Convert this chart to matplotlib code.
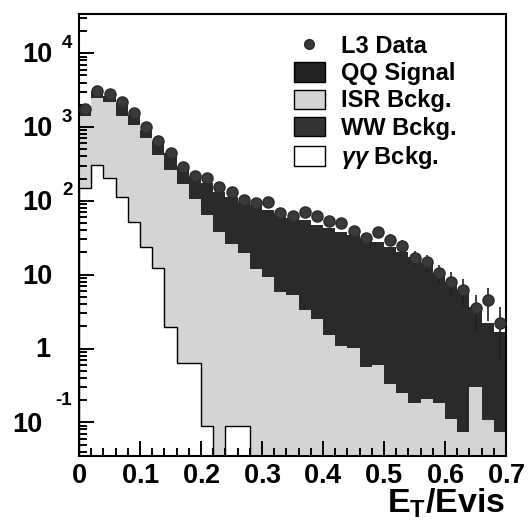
import numpy as np
import matplotlib
matplotlib.use("Agg")
import matplotlib.pyplot as plt
from matplotlib.patches import Patch
from matplotlib.lines import Line2D
from matplotlib.ticker import FixedLocator, NullFormatter

plt.rcParams['font.family'] = ['Liberation Sans', 'DejaVu Sans']
plt.rcParams['font.weight'] = 'bold'
plt.rcParams['mathtext.fontset'] = 'custom'
plt.rcParams['mathtext.rm'] = 'Liberation Sans:bold'
plt.rcParams['mathtext.bf'] = 'Liberation Sans:bold'
plt.rcParams['mathtext.it'] = 'Liberation Sans:bold:italic'

# ---- data (bins of 0.02 in E_T/Evis from 0 to 0.7) ----
bin_edges = np.round(np.arange(0, 0.7001, 0.02), 3)

gg_bckg = [150, 308, 205, 114, 52, 24, 12.3, 1.95, 0.63, 0.63, 0.09, 0, 0.09, 0.09,
           0, 0, 0, 0, 0, 0, 0, 0, 0, 0, 0, 0, 0, 0, 0, 0, 0, 0, 0, 0, 0]
isr_bckg = [1270, 2190, 1955, 1276, 1018, 692, 409, 262, 169, 104, 64.4, 38, 25.9, 19.6,
            11.9, 9.3, 5.8, 5.3, 3.3, 2.5, 1.52, 1.08, 1.01, 0.56, 0.60, 0.33, 0.25,
            0.18, 0.21, 0.18, 0.11, 0.073, 0.30, 0.107, 0.073]
ww_bckg = [5, 6, 6, 7, 6, 5, 5, 5, 4.5, 4.5, 4.5, 4.2, 4, 4, 3.8, 3.6, 3.4, 3.2, 3,
           2.8, 2.6, 2.4, 2.2, 2.0, 1.8, 1.6, 1.4, 1.2, 1.0, 0.8, 0.6, 0.5, 0.3, 0.2, 0.15]
qq_signal = [475, 534, 434, 743, 394, 197, 212, 179, 117.5, 104.5, 106, 89.8, 83, 73,
             72.2, 62.4, 57.6, 50.8, 48, 41.7, 38.9, 34.6, 31.8, 29, 25.4, 21.9, 18.6,
             16, 13.2, 9.5, 7.3, 5.6, 3.05, 1.9, 1.45]
l3_data = [1770, 3100, 2800, 2200, 1560, 990, 652, 452, 292, 219, 205, 155, 132, 103,
           94, 97, 69, 62, 71, 62.5, 53.5, 50, 39, 31.5, 38, 29.6, 24.5, 16.9, 14.9,
           10.5, 8.0, 6.2, 3.5, 4.5, 2.2]

y_tick_values = [0.1, 1, 10, 100, 1000, 10000]
y_tick_mantissa = ['10', '1', '10', '10', '10', '10']
y_tick_exponent = ['-1', '', '', '2', '3', '4']
x_tick_values = [0, 0.1, 0.2, 0.3, 0.4, 0.5, 0.6, 0.7]
x_tick_labels = ['0', '0.1', '0.2', '0.3', '0.4', '0.5', '0.6', '0.7']

legend_labels = ['L3 Data', 'QQ Signal', 'ISR Bckg.', 'WW Bckg.', r'$\gamma\gamma$ Bckg.']

# ---- colours ----
c_qq = '#2a2a2a'
c_ww = '#2a2a2a'
c_isr = '#d4d4d4'
c_gg = '#ffffff'

gg = np.array(gg_bckg, float)
isr = np.array(isr_bckg, float)
ww = np.array(ww_bckg, float)
qq = np.array(qq_signal, float)
data = np.array(l3_data, float)

lvl_gg = gg
lvl_isr = gg + isr
lvl_ww = lvl_isr + ww
lvl_qq = lvl_ww + qq

base = 1e-4
fig = plt.figure(figsize=(5.29, 5.24), dpi=100)
ax = fig.add_axes([79/529, 68/524, (506-79)/529, (456-14)/524])
ax.set_yscale('log')

ax.stairs(lvl_qq, bin_edges, baseline=base, fill=True, color=c_qq, lw=0)
ax.stairs(lvl_ww, bin_edges, baseline=base, fill=True, color=c_ww, lw=0)
ax.stairs(lvl_isr, bin_edges, baseline=base, fill=True, color=c_isr, lw=0)
gg_plot = np.maximum(lvl_gg, base)
ax.stairs(gg_plot, bin_edges, baseline=base, fill=True, color=c_gg, lw=0)
ax.stairs(gg_plot, bin_edges, color='black', lw=1.0)

centers = 0.5 * (bin_edges[:-1] + bin_edges[1:])
ax.errorbar(centers, data, yerr=np.sqrt(data), fmt='o', ms=8, mfc='#3a3a3a',
            mec='#2a2a2a', ecolor='#202020', elinewidth=1.2, capsize=0, zorder=5)

ax.set_xlim(0, 0.7)
ax.set_ylim(0.035, 3.4e4)

for s in ax.spines.values():
    s.set_linewidth(1.5)

ax.yaxis.set_major_locator(FixedLocator(y_tick_values))
ax.yaxis.set_major_formatter(NullFormatter())
ax.yaxis.set_minor_locator(FixedLocator(
    [m * 10.0**e for e in range(-2, 5) for m in range(2, 10)]))
ax.yaxis.set_minor_formatter(NullFormatter())
ax.set_xticks(x_tick_values)
ax.set_xticklabels(['$%s$' % t for t in x_tick_labels])
ax.set_xticks(np.round(np.arange(0, 0.7001, 0.02), 3), minor=True)

ax.tick_params(which='both', direction='in', top=False, right=False,
               width=1.4)
ax.tick_params(which='major', length=11)
ax.tick_params(which='minor', length=6)
ax.tick_params(axis='x', labelsize=19.5, pad=5)

# y tick labels: mantissa + raised exponent, as in the original
for val, man, ex in zip(y_tick_values, y_tick_mantissa, y_tick_exponent):
    if ex == '-1':
        mdx, mdy, edx, edy = -36, -3, -24, 22
    elif man == '1':
        mdx, mdy, edx, edy = -29, -1, 0, 0
    else:
        mdx, mdy, edx, edy = -27, -2, -17, 10
    ax.annotate(man, xy=(0, val), xycoords=('axes fraction', 'data'),
                xytext=(mdx, mdy), textcoords='offset pixels',
                ha='right', va='center', fontsize=19.5, fontweight='bold',
                annotation_clip=False)
    if ex:
        ax.annotate(ex, xy=(0, val), xycoords=('axes fraction', 'data'),
                    xytext=(edx, edy), textcoords='offset pixels',
                    ha='left', va='center', fontsize=13.5, fontweight='bold',
                    annotation_clip=False)

fig.text(505/529, 11/524, r'$\mathrm{E_{T}/Evis}$', ha='right', va='baseline',
         fontsize=24.5, fontweight='bold')

handles = [
    Line2D([], [], ls='none', marker='o', ms=7, mfc='#3a3a3a', mec='#2a2a2a'),
    Patch(facecolor='#222222', edgecolor='black', lw=1),
    Patch(facecolor=c_isr, edgecolor='black', lw=1),
    Patch(facecolor='#333333', edgecolor='black', lw=1),
    Patch(facecolor=c_gg, edgecolor='black', lw=1),
]
fig.legend(handles, legend_labels, loc='upper left',
           bbox_to_anchor=(294/529, 1 - 35/524), frameon=False,
           handlelength=1.3, handleheight=0.9,
           handletextpad=0.7, labelspacing=0.18, borderpad=0, borderaxespad=0,
           prop={'weight': 'bold', 'size': 17})

fig.savefig('out.png', dpi=100)
